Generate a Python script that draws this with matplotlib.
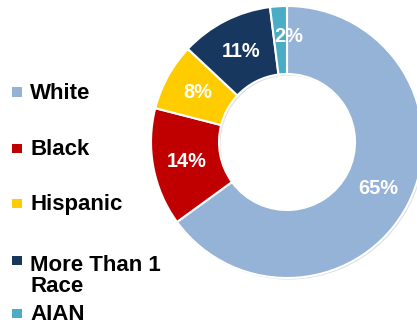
import matplotlib
matplotlib.use("Agg")
import matplotlib.pyplot as plt
from matplotlib.patches import Rectangle, Wedge
import matplotlib.transforms as mtransforms

categories = ["White", "Black", "Hispanic", "More Than 1\nRace", "AIAN"]
values = [65, 14, 8, 11, 2]
colors = ["#95B3D7", "#C00000", "#FFCC00", "#17375E", "#4BACC6"]

W, H = 417, 326
fig = plt.figure(figsize=(W / 100, H / 100), dpi=100)

# donut axes (pixel geometry)
cx, cy, R = 287, 142, 136
ax = fig.add_axes([(cx - R) / W, (H - cy - R) / H, 2 * R / W, 2 * R / H])

# faint shadow
sh = Wedge((0.012, -0.012), 1.0, 0, 360, width=0.5, facecolor="#000000",
           alpha=0.12, edgecolor="none", clip_on=False)
ax.add_patch(sh)

wedges, texts, autotexts = ax.pie(
    values, colors=colors, startangle=90, counterclock=False,
    radius=1.0, autopct="%d%%", pctdistance=0.75,
    wedgeprops=dict(width=0.5, edgecolor="white", linewidth=1.5),
    textprops=dict(color="white", fontsize=14.4, fontweight="bold",
                   family="Liberation Sans"),
)
ax.set_xlim(-1, 1)
ax.set_ylim(-1, 1)
ax.set_aspect("equal")
ax.axis("off")
for w in wedges:
    w.set_clip_on(False)
for t in autotexts:
    t.set_clip_on(False)
# nudge the small AIAN label
autotexts[-1].set_transform(autotexts[-1].get_transform() +
                            mtransforms.ScaledTranslation(0.08, 0.04, fig.dpi_scale_trans))

# legend (manual)
first_baselines = [99, 155, 210, 267, 320]
line_step = 25
for lab, col, yb in zip(categories, colors, first_baselines):
    nlines = lab.count("\n") + 1
    fig.patches.append(Rectangle((12 / W, (H - yb + 2) / H), 9.5 / W, 9.5 / H,
                                 transform=fig.transFigure, facecolor=col,
                                 edgecolor="none"))
    fig.text(30 / W, (H - yb - (nlines - 1) * line_step) / H, lab,
             fontsize=16, fontweight="bold",
             family="Liberation Sans", color="black", va="baseline",
             ha="left", linespacing=1.0)

fig.savefig("out.png", dpi=100)
